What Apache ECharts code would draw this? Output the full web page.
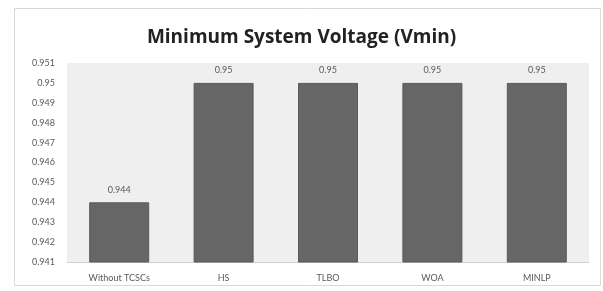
<!DOCTYPE html>
<html>
<head>
<meta charset="utf-8">
<script src="https://cdn.jsdelivr.net/npm/echarts@6/dist/echarts.min.js"></script>
<style>
  html, body { margin: 0; padding: 0; background: #fff; }
  #main { width: 603px; height: 291px; }
</style>
</head>
<body>
<div id="main"></div>
<script>
// 数据
var categories = ['Without TCSCs', 'HS', 'TLBO', 'WOA', 'MINLP'];
var vmin = [0.944, 0.95, 0.95, 0.95, 0.95];

var myChart = echarts.init(document.getElementById('main'));
myChart.setOption({
  backgroundColor: '#ffffff',
  animation: false,
  title: {
    text: 'Minimum System Voltage (Vmin)',
    left: 'center',
    top: 23,
    textStyle: {
      fontFamily: 'Open Sans',
      fontWeight: 'bold',
      fontSize: 19,
      color: '#222222'
    }
  },
  // 外框
  graphic: [{
    type: 'rect',
    shape: { x: 14.5, y: 8.5, width: 586, height: 277 },
    style: { fill: 'none', stroke: '#d9d9d9', lineWidth: 1 },
    silent: true
  }],
  grid: {
    left: 67,
    right: 14,
    top: 63,
    bottom: 29,
    show: true,
    backgroundColor: '#efefef',
    borderWidth: 0
  },
  xAxis: {
    type: 'category',
    data: categories,
    axisTick: { show: false },
    axisLine: { lineStyle: { color: '#d0d0d0' } },
    axisLabel: {
      color: '#595959',
      fontFamily: 'Lato',
      fontSize: 9,
      margin: 12
    }
  },
  yAxis: {
    type: 'value',
    min: 0.941,
    max: 0.951,
    interval: 0.001,
    splitLine: { show: false },
    axisLine: { show: false },
    axisTick: { show: false },
    axisLabel: {
      color: '#595959',
      fontFamily: 'Lato',
      fontSize: 9,
      margin: 12,
      formatter: function (value) {
        return String(parseFloat(value.toFixed(3)));
      }
    }
  },
  series: [{
    name: 'Vmin',
    type: 'bar',
    data: vmin,
    barWidth: 60,
    itemStyle: {
      color: '#666666',
      borderColor: '#5a5a5a',
      borderWidth: 1
    },
    label: {
      show: true,
      position: 'top',
      distance: 8,
      color: '#595959',
      fontFamily: 'Lato',
      fontSize: 9
    }
  }]
});
</script>
</body>
</html>
